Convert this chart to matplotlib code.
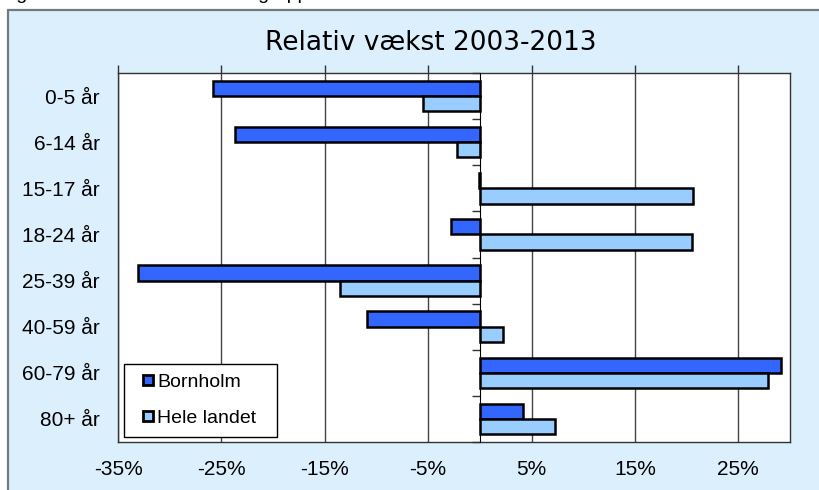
import numpy as np
import matplotlib.pyplot as plt
from matplotlib.patches import Rectangle
from matplotlib.legend_handler import HandlerPatch

# data (percent)
categories = ['0-5 år', '6-14 år', '15-17 år', '18-24 år', '25-39 år', '40-59 år', '60-79 år', '80+ år']
bornholm = [-25.8, -23.7, -0.1, -2.8, -33.1, -10.9, 29.1, 4.2]
hele_landet = [-5.5, -2.2, 20.65, 20.55, -13.55, 2.25, 27.9, 7.3]
x_ticks = [-35, -25, -15, -5, 5, 15, 25]
x_tick_labels = ['-35%', '-25%', '-15%', '-5%', '5%', '15%', '25%']

title = 'Relativ vækst 2003-2013'
caption = 'Figur 3: Relativ vækst i aldersgrupper'

W, H = 819, 490
fig = plt.figure(figsize=(W / 100, H / 100), dpi=100)
fig.patch.set_facecolor('white')

# light blue chart frame (runs off the right and bottom edge)
frame = Rectangle((8 / W, -0.1), 1.2, 1 - 10 / H + 0.1, transform=fig.transFigure,
                  facecolor='#DCEFFC', edgecolor='#6F7A82', linewidth=1.6, zorder=-5)
fig.patches.append(frame)

# caption mostly cut off above the image
fig.text(0.0, 1 - 3 / H, caption, fontsize=14, family='Liberation Sans', va='bottom', ha='left')

fig.text(431 / W, 1 - 43 / H, title, fontsize=19, family='DejaVu Sans', ha='center', va='center')

ax = fig.add_axes([118 / W, 48 / H, 672 / W, 369 / H])
ax.set_facecolor('white')

y = np.arange(len(categories))
h = 0.33
b1 = ax.barh(y - h / 2, bornholm, height=h, color='#3366FF', edgecolor='black', linewidth=1.8,
             label='Bornholm', zorder=3)
b2 = ax.barh(y + h / 2, hele_landet, height=h, color='#99CCFF', edgecolor='black', linewidth=1.8,
             label='Hele landet', zorder=3)

ax.set_xlim(-35, 30)
ax.set_ylim(len(categories) - 0.5, -0.5)

ax.set_xticks(x_ticks)
ax.set_xticklabels(x_tick_labels)
ax.tick_params(axis='x', top=True, bottom=False, labelbottom=True, length=6, width=1,
               color='#333333', direction='out', pad=7, labelsize=15)
ax.xaxis.grid(True, color='#444444', linewidth=1)
ax.set_axisbelow(True)

ax.set_yticks(y)
ax.set_yticklabels(categories)
ax.tick_params(axis='y', length=0, pad=13, labelsize=15)
for lab in ax.get_xticklabels() + ax.get_yticklabels():
    lab.set_family('Liberation Sans')

for s in ax.spines.values():
    s.set_color('#333333')
    s.set_linewidth(1)

# category axis crossing at 0 with ticks between the groups
zero = ax.secondary_yaxis(35 / 65)
zero.set_yticks(np.arange(len(categories) + 1) - 0.5)
zero.set_yticklabels([])
zero.tick_params(length=6, width=1, color='#333333', direction='in')
zero.spines['left'].set_color('black')
zero.spines['left'].set_linewidth(1.2)
zero.set_zorder(4)


# small square key drawn at the right end of the handle box
def square_key(legend, orig_handle, xdescent, ydescent, width, height, fontsize):
    s = 0.52 * fontsize
    return Rectangle((-xdescent + width - s, -ydescent + (height - s) / 2), s, s)


leg = ax.legend(handles=[b1.patches[0], b2.patches[0]], labels=['Bornholm', 'Hele landet'],
                loc='lower left', bbox_to_anchor=(6 / 672, 5 / 369, 153 / 672, 0.2),
                mode='expand', borderaxespad=0,
                prop={'family': 'Liberation Sans', 'size': 14}, fancybox=False,
                framealpha=1, edgecolor='black', handlelength=1.0, handleheight=0.5,
                handletextpad=0.2, labelspacing=1.0, borderpad=0.5,
                handler_map={Rectangle: HandlerPatch(patch_func=square_key)})
leg.get_frame().set_linewidth(1)
leg.set_zorder(6)
for p in leg.get_patches():
    p.set_linewidth(2)

fig.savefig('out.png', dpi=100)
